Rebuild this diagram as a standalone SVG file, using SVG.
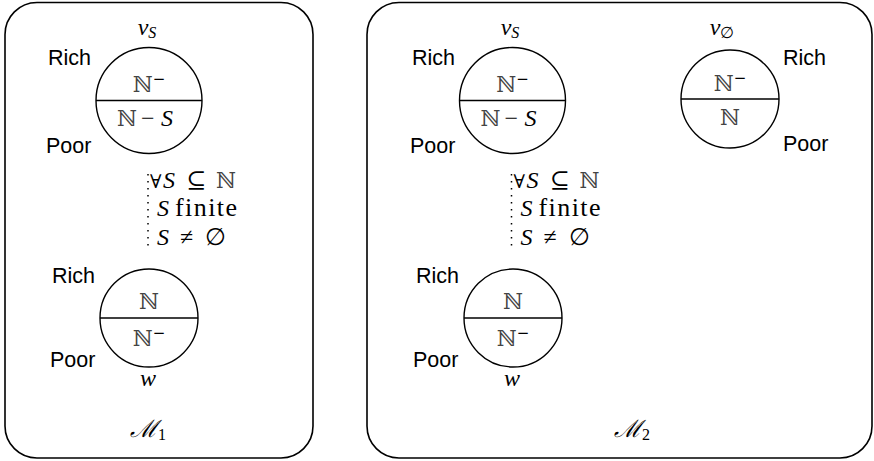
<svg xmlns="http://www.w3.org/2000/svg" width="874" height="461" viewBox="0 0 874 461">
<style>
.box{fill:none;stroke:#000;stroke-width:1.6}
.c{fill:#fff;stroke:#000;stroke-width:1.4}
.d{stroke:#000;stroke-width:1.4}
.sans{font-family:"Liberation Sans","DejaVu Sans",sans-serif;font-size:21.5px;fill:#000}
.m{font-family:"Liberation Serif","DejaVu Serif",serif;font-size:24px;fill:#000}
.mi{font-family:"Liberation Serif","DejaVu Serif",serif;font-style:italic;font-size:24px;fill:#000}
.bb{font-family:"DejaVu Serif","Liberation Serif",serif;font-size:22px;fill:#444}
.fa{font-family:"Liberation Serif","DejaVu Serif",serif;font-size:19px;fill:#000}
.fin{font-family:"Liberation Serif","DejaVu Serif",serif;font-size:26px;fill:#000}
.dots{stroke:#000;stroke-width:1.5;stroke-dasharray:1.4 5.6}
</style>
<g id="model1">
<rect class="box" x="5" y="2.5" width="308" height="455.5" rx="32"/>
<text class="mi" x="148" y="437" text-anchor="middle" font-size="27">ℳ<tspan font-size="16" dy="3" font-style="normal">1</tspan></text>
</g>
<g id="model2">
<rect class="box" x="367" y="2.5" width="505" height="455.5" rx="32"/>
<text class="mi" x="632" y="437" text-anchor="middle" font-size="27">ℳ<tspan font-size="16" dy="3" font-style="normal">2</tspan></text>
</g>
<g id="connectors">
<line class="dots" x1="148" y1="174" x2="148" y2="250"/>
<line class="dots" x1="511.5" y1="174" x2="511.5" y2="250"/>
</g>
<g id="m1-vS">
<circle class="c" cx="149" cy="100.5" r="53"/>
<line class="d" x1="96" y1="100.5" x2="202" y2="100.5"/>
<text class="bb" x="149" y="92" text-anchor="middle">ℕ<tspan font-size="15" dy="-8" fill="#000">−</tspan></text>
<text class="bb" x="117" y="126">ℕ</text>
<text class="m" x="141" y="126">−</text>
<text class="mi" x="161" y="126">S</text>
<text class="mi" x="147" y="35" text-anchor="middle">v<tspan font-size="16" dy="3">S</tspan></text>
<text class="sans" x="48" y="65">Rich</text>
<text class="sans" x="46" y="153">Poor</text>
</g>
<g id="m1-cond">
<text class="fa" x="150" y="188">∀</text>
<text class="mi" x="163" y="188">S</text>
<text class="m" x="186" y="188">⊆</text>
<text class="bb" x="216" y="188">ℕ</text>
<text class="mi" x="157" y="216">S</text>
<text class="fin" x="175" y="216" textLength="62" lengthAdjust="spacing">finite</text>
<text class="mi" x="157" y="245">S</text>
<text class="m" x="180" y="245">≠</text>
<text class="m" x="205" y="245">∅</text>
</g>
<g id="m1-w">
<circle class="c" cx="149" cy="318" r="49"/>
<line class="d" x1="100" y1="318" x2="198" y2="318"/>
<text class="bb" x="149" y="309" text-anchor="middle">ℕ</text>
<text class="bb" x="149" y="346" text-anchor="middle">ℕ<tspan font-size="15" dy="-8" fill="#000">−</tspan></text>
<text class="mi" x="148" y="386" text-anchor="middle">w</text>
<text class="sans" x="52" y="283">Rich</text>
<text class="sans" x="50" y="367">Poor</text>
</g>
<g id="m2-vS">
<circle class="c" cx="512.5" cy="100.5" r="53"/>
<line class="d" x1="459.5" y1="100.5" x2="565.5" y2="100.5"/>
<text class="bb" x="512.5" y="92" text-anchor="middle">ℕ<tspan font-size="15" dy="-8" fill="#000">−</tspan></text>
<text class="bb" x="480.5" y="126">ℕ</text>
<text class="m" x="504.5" y="126">−</text>
<text class="mi" x="524.5" y="126">S</text>
<text class="mi" x="510" y="35" text-anchor="middle">v<tspan font-size="16" dy="3">S</tspan></text>
<text class="sans" x="412" y="65">Rich</text>
<text class="sans" x="410" y="153">Poor</text>
</g>
<g id="m2-vEmpty">
<circle class="c" cx="730" cy="99" r="49"/>
<line class="d" x1="681" y1="99" x2="779" y2="99"/>
<text class="bb" x="730" y="91" text-anchor="middle">ℕ<tspan font-size="15" dy="-8" fill="#000">−</tspan></text>
<text class="bb" x="730" y="125" text-anchor="middle">ℕ</text>
<text class="mi" x="722" y="35" text-anchor="middle">v<tspan font-size="16" dy="3" font-style="normal">∅</tspan></text>
<text class="sans" x="783" y="65">Rich</text>
<text class="sans" x="783" y="151">Poor</text>
</g>
<g id="m2-cond">
<text class="fa" x="513.5" y="188">∀</text>
<text class="mi" x="526.5" y="188">S</text>
<text class="m" x="549.5" y="188">⊆</text>
<text class="bb" x="579.5" y="188">ℕ</text>
<text class="mi" x="520.5" y="216">S</text>
<text class="fin" x="538.5" y="216" textLength="62" lengthAdjust="spacing">finite</text>
<text class="mi" x="520.5" y="245">S</text>
<text class="m" x="543.5" y="245">≠</text>
<text class="m" x="568.5" y="245">∅</text>
</g>
<g id="m2-w">
<circle class="c" cx="513" cy="318" r="49"/>
<line class="d" x1="464" y1="318" x2="562" y2="318"/>
<text class="bb" x="513" y="309" text-anchor="middle">ℕ</text>
<text class="bb" x="513" y="346" text-anchor="middle">ℕ<tspan font-size="15" dy="-8" fill="#000">−</tspan></text>
<text class="mi" x="512" y="386" text-anchor="middle">w</text>
<text class="sans" x="416" y="283">Rich</text>
<text class="sans" x="413" y="367">Poor</text>
</g>
</svg>
